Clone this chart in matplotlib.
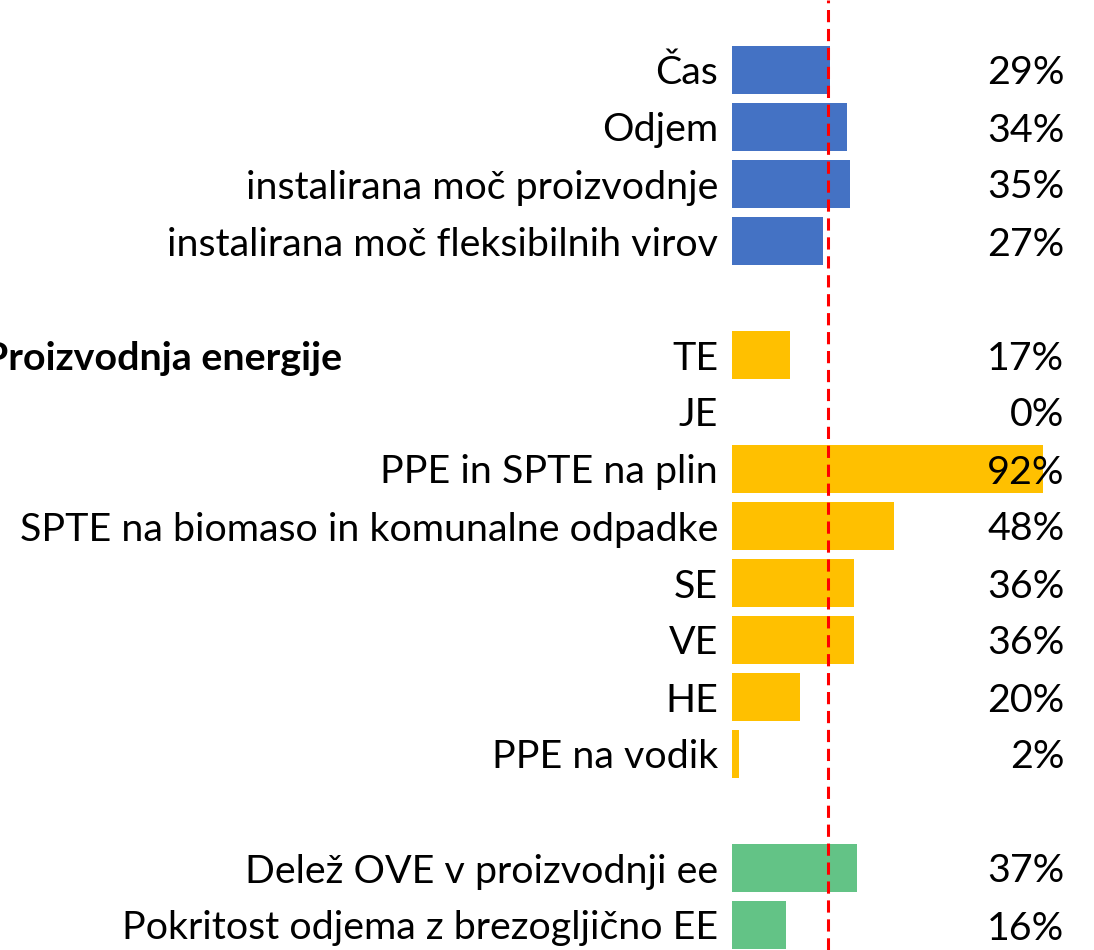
import matplotlib as mpl
import matplotlib.pyplot as plt
import numpy as np

labels = ['Čas', 'Odjem', 'instalirana moč proizvodnje',
          'instalirana moč fleksibilnih virov',
          'TE', 'JE', 'PPE in SPTE na plin',
          'SPTE na biomaso in komunalne odpadke', 'SE', 'VE', 'HE',
          'PPE na vodik',
          'Delež OVE v proizvodnji ee', 'Pokritost odjema z brezogljično EE']
values = [29, 34, 35, 27, 17, 0, 92, 48, 36, 36, 20, 2, 37, 16]
groups = ['a', 'a', 'a', 'a', 'b', 'b', 'b', 'b', 'b', 'b', 'b', 'b', 'c', 'c']
# row slots, with an empty slot between groups
slots = [0, 1, 2, 3, 5, 6, 7, 8, 9, 10, 11, 12, 14, 15]
group_title = 'Proizvodnja energije'
ref_line = 28.3

colors = {'a': '#4472C4', 'b': '#FFC000', 'c': '#63C386'}


def main():
    mpl.rcParams['font.family'] = ['Lato', 'DejaVu Sans']
    fs = 28.4
    fig = plt.figure(figsize=(10.94, 9.5), dpi=100)
    ax = fig.add_axes([0, 0, 1, 1])
    px = 3.384  # pixels per percent
    ax.set_xlim(-732 / px, (1094 - 732) / px)
    pitch = 57.0
    top = 70.0
    ax.set_ylim((950 - top) / pitch, -top / pitch)
    ax.axis('off')

    ax.barh(slots, values, height=0.842, color=[colors[g] for g in groups],
            zorder=2)
    dy = 3.5 / pitch  # text sits a little lower than the bar centre
    for s, lab, v in zip(slots, labels, values):
        ax.text(-4.1, s + dy, lab, ha='right', va='center', fontsize=fs)
        ax.text(98.2, s + dy, f'{v}%', ha='right', va='center', fontsize=fs,
                zorder=4)
    ax.text(342 / px - 732 / px, slots[4] + dy, group_title, ha='right',
            va='center', fontsize=fs, fontweight='bold')
    ax.axvline(ref_line, color='#FF0000', linestyle=(0, (4, 2.2)),
               linewidth=2.2, zorder=3)
    fig.savefig('out.png', dpi=100)


if __name__ == '__main__':
    main()
